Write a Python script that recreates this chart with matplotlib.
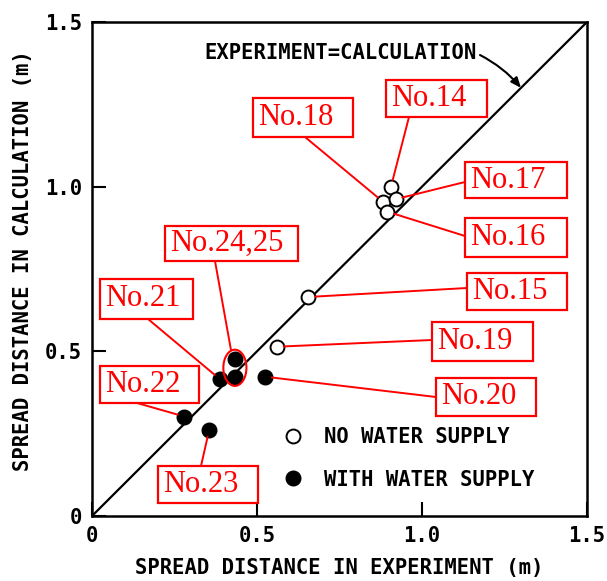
import matplotlib
matplotlib.use("Agg")
import matplotlib.pyplot as plt
from matplotlib.patches import Rectangle, Ellipse

# ---------------- data ----------------
no_water_labels = ["No.14", "No.18", "No.17", "No.16", "No.15", "No.19"]
no_water_x = [0.906, 0.882, 0.920, 0.895, 0.655, 0.560]
no_water_y = [1.000, 0.954, 0.962, 0.924, 0.665, 0.514]

water_labels = ["No.24", "No.25", "No.21", "No.20", "No.22", "No.23"]
water_x = [0.433, 0.433, 0.388, 0.524, 0.280, 0.355]
water_y = [0.477, 0.423, 0.415, 0.423, 0.302, 0.261]

ticks = [0, 0.5, 1.0, 1.5]
tick_labels = ["0", "0.5", "1.0", "1.5"]

# ---------------- layout helpers ----------------
W, H = 607, 581
AX_L, AX_R, AX_T, AX_B = 92, 587, 22, 516
FS = 14.8


def px2ax(px, py):
    return ((px - AX_L) / (AX_R - AX_L), (AX_B - py) / (AX_B - AX_T))


mono = dict(family="DejaVu Sans Mono", weight="bold")
serif = dict(family="Liberation Serif")

fig = plt.figure(figsize=(W / 100, H / 100), dpi=100)
ax = fig.add_axes([AX_L / W, 1 - AX_B / H, (AX_R - AX_L) / W, (AX_B - AX_T) / H])
ax.set_xlim(0, 1.5)
ax.set_ylim(0, 1.5)
for s in ax.spines.values():
    s.set_linewidth(1.8)
ax.set_xticks(ticks)
ax.set_yticks(ticks)
ax.set_xticklabels(tick_labels, fontsize=FS, **mono)
ax.set_yticklabels(tick_labels, fontsize=FS, **mono)
ax.tick_params(direction="in", length=10, width=1.5, pad=7)
ax.set_xlabel("SPREAD DISTANCE IN EXPERIMENT (m)", fontsize=FS, labelpad=9, **mono)
ax.set_ylabel("SPREAD DISTANCE IN CALCULATION (m)", fontsize=FS, **mono)
ax.yaxis.set_label_coords(*px2ax(33, 261))

# diagonal line
ax.plot([0, 1.5], [0, 1.5], color="black", lw=1.6, zorder=2)

# points
ax.plot(no_water_x, no_water_y, "o", ms=10, mfc="white", mec="black", mew=1.4,
        zorder=4, label="NO WATER SUPPLY")
ax.plot(water_x, water_y, "o", ms=10.5, mfc="black", mec="black", zorder=4,
        label="WITH WATER SUPPLY")

# ellipse around No.24,25
ex = (water_x[0] + water_x[1]) / 2
ey = (water_y[0] + water_y[1]) / 2
ax.add_patch(Ellipse((ex, ey), 0.07, 0.11, fill=False, ec="red", lw=1.5, zorder=5))

# legend
leg = ax.legend(loc="upper left", bbox_to_anchor=px2ax(283, 427), frameon=False,
                prop=dict(size=FS, **mono), handlelength=0.95, handletextpad=1.05,
                labelspacing=1.1, borderpad=0, borderaxespad=0, numpoints=1)

# EXPERIMENT=CALCULATION text and arrow
tx, ty = px2ax(204, 53)
ax.text(tx, ty, "EXPERIMENT=CALCULATION", transform=ax.transAxes, fontsize=FS,
        ha="left", va="center", **mono)
ax.annotate("", xy=(1.30, 1.30), xycoords="data", xytext=px2ax(480, 55),
            textcoords="axes fraction",
            arrowprops=dict(arrowstyle="-|>,head_length=0.6,head_width=0.25",
                            color="black", lw=1.5, shrinkA=0, shrinkB=0,
                            connectionstyle="arc3,rad=-0.1"))

# red label boxes: (label, box left, top, right, bottom px, leader start px, target point)
boxes = [
    ("No.14", (386, 80, 487, 117), (409, 117), (no_water_x[0], no_water_y[0])),
    ("No.18", (253, 98, 353, 137), (305, 137), (no_water_x[1], no_water_y[1])),
    ("No.17", (465, 162, 567, 198), (465, 182), (no_water_x[2], no_water_y[2])),
    ("No.16", (465, 218, 567, 257), (465, 236), (no_water_x[3], no_water_y[3])),
    ("No.15", (467, 273, 567, 310), (467, 288), (no_water_x[4], no_water_y[4])),
    ("No.19", (432, 322, 533, 361), (432, 340), (no_water_x[5], no_water_y[5])),
    ("No.24,25", (165, 226, 298, 261), (215, 261), (ex - 0.012, ey + 0.055)),
    ("No.21", (100, 279, 193, 319), (148, 319), (water_x[2], water_y[2])),
    ("No.20", (436, 378, 536, 416), (436, 397), (water_x[3], water_y[3])),
    ("No.22", (100, 366, 199, 403), (137, 403), (water_x[4], water_y[4])),
    ("No.23", (158, 466, 258, 503), (201, 466), (water_x[5], water_y[5])),
]

for label, (l, t, r, b), (sx, sy), target in boxes:
    x0, y0 = px2ax(l, b)
    x1, y1 = px2ax(r, t)
    ax.add_patch(Rectangle((x0, y0), x1 - x0, y1 - y0, transform=ax.transAxes,
                           facecolor="white", edgecolor="red", lw=1.6, zorder=6,
                           clip_on=False))
    ax.text(px2ax(l + 5, 0)[0], (y0 + y1) / 2, label, transform=ax.transAxes,
            color="red", fontsize=22, ha="left", va="center", zorder=7, **serif)
    shrink = 0 if label == "No.24,25" else 5
    ax.annotate("", xy=target, xycoords="data", xytext=px2ax(sx, sy),
                textcoords="axes fraction",
                arrowprops=dict(arrowstyle="-", color="red", lw=1.4,
                                shrinkA=0, shrinkB=shrink),
                zorder=5)

fig.savefig("out.png", dpi=100)
